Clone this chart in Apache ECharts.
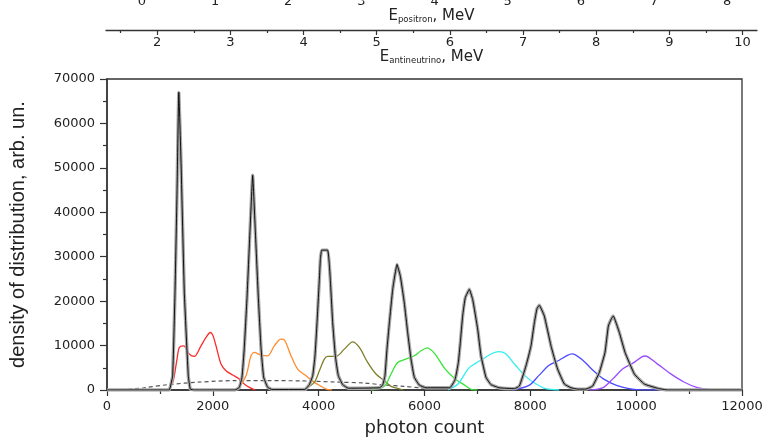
<!DOCTYPE html>
<html>
<head>
<meta charset="utf-8">
<script src="https://cdn.jsdelivr.net/npm/echarts@6/dist/echarts.min.js"></script>
<style>html,body{margin:0;padding:0;background:#fff;}#c{width:768px;height:442px;}</style>
</head>
<body>
<div id="c"></div>
<script>
// ---- data (photon count, density) ----
const blackPeaks = [
  [0,0],[1100,0],
  [1177,0],[1241,3200],[1285,21900],[1323,44300],[1357,67000],[1398,51800],[1461,21900],[1536,3200],[1574,200],[1650,0],
  [2420,0],[2501,600],[2551,2840],[2595,9580],[2646,20790],[2702,35750],[2753,48320],[2803,35750],[2860,20790],[2910,9580],[2961,2840],[3036,600],[3120,100],
  [3740,100],[3824,1200],[3887,3200],[3931,7700],[3969,15130],[4013,24900],[4032,29390],[4057,31480],[4170,31480],[4200,28500],[4220,24900],[4265,15130],[4315,7700],[4372,3200],[4454,1200],[4560,400],
  [5147,500],[5210,1100],[5253,3200],[5291,9200],[5336,15130],[5399,22660],[5480,28270],[5543,25630],[5618,19650],[5682,12940],[5745,6960],[5808,2840],[5902,1100],[6028,500],
  [6480,500],[6576,2300],[6640,6210],[6677,10700],[6721,16670],[6771,20790],[6847,22660],[6910,20400],[7005,13690],[7068,7700],[7162,2840],[7257,1200],[7414,500],
  [7700,300],[7793,900],[7918,5440],[8013,9950],[8076,15130],[8126,18330],[8170,19070],[8264,16670],[8390,9950],[8516,4710],[8642,1350],[8768,500],[8900,200],
  [9050,200],[9178,900],[9304,3950],[9411,8450],[9474,14400],[9530,16000],[9568,16670],[9682,12940],[9790,8450],[9966,3590],[10154,1350],[10407,380],[10600,0],[12000,0]
];
const redCurve = [[1100,0],[1178,380],[1250,2000],[1323,6960],[1367,9580],[1449,9950],[1556,8080],[1650,7550],[1776,9950],[1871,11820],[1952,12940],[2000,12300],[2060,9950],[2154,5840],[2249,4330],[2375,3370],[2500,2470],[2595,1350],[2690,600],[2800,0]];
const orangeCurve = [[2400,0],[2482,380],[2627,3200],[2721,7700],[2784,8450],[2910,7850],[3036,7700],[3162,9950],[3288,11440],[3351,11300],[3477,7700],[3603,4710],[3761,3200],[3918,1720],[4044,830],[4139,220],[4250,0]];
const oliveCurve = [[3650,0],[3761,380],[3918,1720],[4013,4330],[4107,6960],[4170,7550],[4328,7550],[4485,9200],[4643,10840],[4769,9580],[4926,6210],[5083,3590],[5241,2090],[5367,830],[5493,380],[5600,0]];
const greenCurve = [[4989,0],[5241,830],[5367,3590],[5493,6210],[5682,7100],[5808,7700],[5934,8820],[6050,9500],[6193,8200],[6384,4820],[6575,2560],[6766,1030],[6893,70],[7000,0]];
const cyanCurve = [[6446,0],[6637,1410],[6828,4820],[6956,5940],[7115,7080],[7274,8210],[7401,8650],[7529,8210],[7720,5560],[7911,3070],[8102,1410],[8292,290],[8545,0]];
const blueCurve = [[7656,0],[7973,1030],[8164,3300],[8354,5560],[8545,6700],[8700,7800],[8790,8150],[8991,6700],[9182,4440],[9373,2560],[9628,1030],[10010,70],[10600,0]];
const purpleCurve = [[9120,0],[9373,520],[9564,2560],[9755,4820],[9946,6100],[10100,7400],[10170,7650],[10392,5940],[10647,3680],[10902,1800],[11157,520],[11411,70],[12000,0]];
const dashedCurve = [[0,0],[300,100],[700,500],[1150,1200],[1780,1800],[2400,2100],[3040,2100],[3670,2050],[4300,1800],[4860,1570],[5240,1120],[5615,830],[5900,500],[6200,200]];

// ---- tick labels ----
const antineutrinoTicks = [2,3,4,5,6,7,8,9,10];
const antineutrinoMinor = [1.5,2.5,3.5,4.5,5.5,6.5,7.5,8.5,9.5];
const positronTicks = [0,1,2,3,4,5,6,7,8];
const positronMinor = [0.5,1.5,2.5,3.5,4.5,5.5,6.5,7.5];

const axisColor = '#333';
const textColor = '#222';
const numFont = 'DejaVu Sans';
const plain = v => String(v);

function subName(main, sub) {
  return {
    name: '{e|' + main + '}{s|' + sub + '}{e|, MeV}',
    nameLocation: 'middle',
    nameTextStyle: {
      verticalAlign: 'top',
      rich: {
        e: {fontSize: 15, fontFamily: numFont, color: textColor, lineHeight: 22, verticalAlign: 'bottom'},
        s: {fontSize: 8.5, fontFamily: numFont, color: textColor, lineHeight: 8, verticalAlign: 'bottom'}
      }
    }
  };
}

function topAxis(grid, min, max, ticks, minor, sub, gap, margin) {
  return [Object.assign({
    gridIndex: grid, type: 'value', min: min, max: max, position: 'bottom',
    axisLine: {show: true, lineStyle: {color: axisColor, width: 1.3}},
    axisTick: {show: true, customValues: ticks, length: 5, lineStyle: {color: axisColor, width: 1.2}},
    axisLabel: {show: true, customValues: ticks, margin: margin, fontSize: 13, fontFamily: numFont, color: textColor, formatter: plain},
    splitLine: {show: false},
    nameGap: gap
  }, subName('E', sub)),
  {
    gridIndex: grid, type: 'value', min: min, max: max, position: 'bottom',
    axisLine: {show: false},
    axisTick: {show: true, customValues: minor, length: 3, lineStyle: {color: axisColor, width: 1.2}},
    axisLabel: {show: false},
    splitLine: {show: false}
  }];
}

const chart = echarts.init(document.getElementById('c'), null, {renderer: 'canvas'});

function lineSeries(data, color, width, extra) {
  return Object.assign({
    type: 'line', data: data, xAxisIndex: 0, yAxisIndex: 0,
    showSymbol: false, symbol: 'none', smooth: 0.3, silent: true,
    lineStyle: {color: color, width: width}
  }, extra || {});
}

const option = {
  animation: false,
  backgroundColor: '#fff',
  grid: [
    {left: 106, top: 79, width: 636, height: 312, show: true, borderColor: axisColor, borderWidth: 1.3},
    {left: 106, top: 14, width: 651, height: 16, show: false},
    {left: 106, top: -46, width: 651, height: 28, show: false}
  ],
  xAxis: [
    {
      gridIndex: 0, type: 'value', min: 0, max: 12000, interval: 2000,
      name: 'photon count', nameLocation: 'middle', nameGap: 29,
      nameTextStyle: {fontSize: 18, fontFamily: numFont, color: textColor},
      axisLine: {show: true, onZero: false, lineStyle: {color: axisColor, width: 1.5}},
      axisTick: {show: true, length: 6, lineStyle: {color: axisColor, width: 1.2}},
      minorTick: {show: true, splitNumber: 2, length: 4, lineStyle: {color: axisColor, width: 1.2}},
      axisLabel: {margin: 10, fontSize: 13, fontFamily: numFont, color: textColor, formatter: plain},
      splitLine: {show: false}
    }
  ].concat(
    topAxis(1, 1.3, 10.197, antineutrinoTicks, antineutrinoMinor, 'antineutrino', 8, 6),
    topAxis(2, -0.49, 8.407, positronTicks, positronMinor, 'positron', 10, 6)
  ),
  yAxis: [
    {
      gridIndex: 0, type: 'value', min: 0, max: 70000, interval: 10000,
      name: 'density of distribution, arb. un.', nameLocation: 'middle', nameGap: 79,
      nameTextStyle: {fontSize: 20, fontFamily: 'Liberation Sans', color: textColor},
      axisLine: {show: true, lineStyle: {color: axisColor, width: 1.5}},
      axisTick: {show: true, length: 7, lineStyle: {color: axisColor, width: 1.2}},
      minorTick: {show: true, splitNumber: 2, length: 4, lineStyle: {color: axisColor, width: 1.2}},
      axisLabel: {margin: 12, fontSize: 13, fontFamily: numFont, color: textColor, formatter: plain},
      splitLine: {show: false}
    },
    {gridIndex: 1, type: 'value', min: 0, max: 1, show: false},
    {gridIndex: 2, type: 'value', min: 0, max: 1, show: false}
  ],
  series: [
    lineSeries(dashedCurve, '#555', 1.2, {lineStyle: {color: '#555', width: 1.2, type: [4, 3]}}),
    lineSeries(redCurve, '#ff2a2a', 1.3),
    lineSeries(orangeCurve, '#ff8c2e', 1.3),
    lineSeries(oliveCurve, '#80802a', 1.3),
    lineSeries(greenCurve, '#33e633', 1.3),
    lineSeries(cyanCurve, '#33eeee', 1.3),
    lineSeries(blueCurve, '#4a4aff', 1.3),
    lineSeries(purpleCurve, '#9a4dff', 1.3),
    lineSeries(blackPeaks, '#a8a8a8', 3.4, {smooth: 0.1}),
    lineSeries(blackPeaks, '#000', 0.9, {smooth: 0.1})
  ]
};
chart.setOption(option);
</script>
</body>
</html>
